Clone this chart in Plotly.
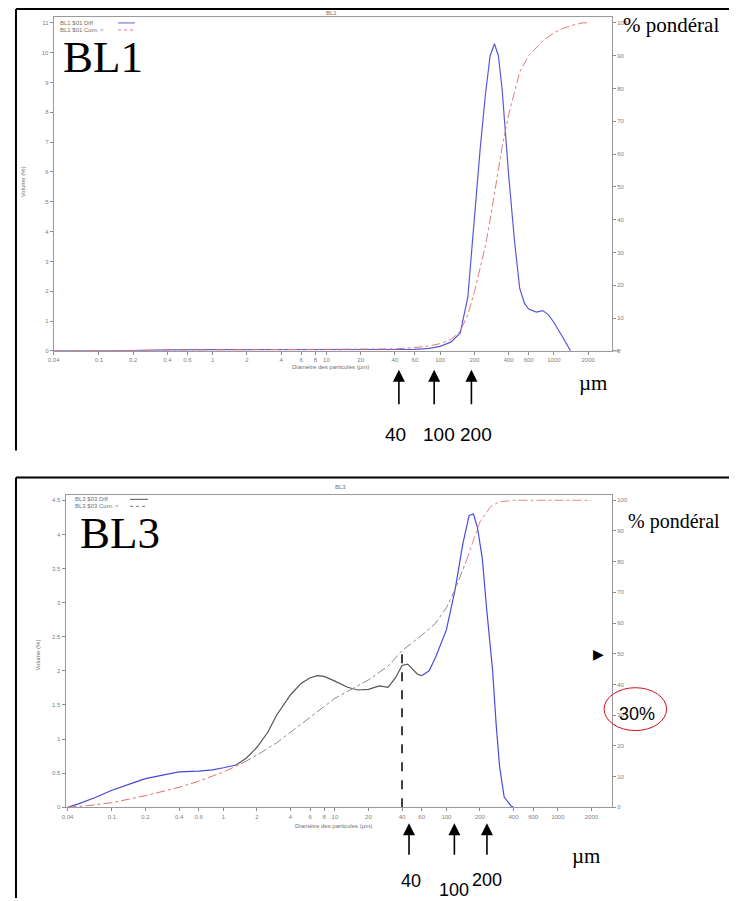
import numpy as np
import plotly.graph_objects as go

# page is drawn with the browser's default 8px body margin, so the figure is
# sized to fill the 737x901 window from that offset
OFF = 8
W, H = 737 - OFF, 901 - OFF

# ---------------- data ----------------
bl1_size = [0.04, 0.1, 0.2, 0.4, 0.6, 1, 2, 4, 10, 20, 40, 60, 80, 100, 125, 150, 175,
            200, 225, 250, 275, 300, 325, 350, 400, 450, 500, 550, 600, 700, 800, 900,
            1000, 1200, 1400]
bl1_diff = [0, 0, 0.01, 0.03, 0.04, 0.04, 0.04, 0.04, 0.04, 0.04, 0.04, 0.05, 0.08, 0.15,
            0.3, 0.6, 1.8, 4.5, 6.8, 8.6, 9.9, 10.3, 9.9, 8.8, 5.9, 3.7, 2.1, 1.6, 1.4,
            1.3, 1.35, 1.2, 0.95, 0.45, 0.0]

bl1_cum_size = [0.04, 1, 10, 40, 60, 80, 100, 125, 150, 175, 200, 225, 250, 275, 300,
                350, 400, 450, 500, 600, 700, 800, 1000, 1200, 1500, 1800, 2000]
bl1_cum = [0, 0.2, 0.4, 0.6, 1.0, 1.5, 2.2, 3.5, 6, 11, 18, 25, 32, 40, 48, 62, 72, 79,
           85, 90, 92.5, 94.5, 97, 98.3, 99.4, 100, 100]

bl3_size = [0.04, 0.05, 0.07, 0.1, 0.15, 0.2, 0.3, 0.4, 0.6, 0.8, 1.0, 1.3, 1.6, 2.0,
            2.5, 3.0, 4.0, 5.0, 6.0, 7.0, 8.0, 10, 13, 16, 20, 25, 30, 35, 40, 45, 50,
            55, 60, 70, 80, 100, 120, 140, 160, 175, 190, 210, 230, 260, 280, 300, 330,
            380, 400]
bl3_diff = [0.0, 0.05, 0.14, 0.25, 0.35, 0.42, 0.48, 0.52, 0.53, 0.55, 0.58, 0.62, 0.72,
            0.88, 1.1, 1.35, 1.65, 1.82, 1.9, 1.93, 1.92, 1.85, 1.76, 1.72, 1.73, 1.78,
            1.76, 1.9, 2.08, 2.1, 2.02, 1.95, 1.93, 2.0, 2.2, 2.6, 3.2, 3.85, 4.28, 4.3,
            4.1, 3.65, 2.9, 2.0, 1.2, 0.6, 0.15, 0.02, 0.0]

bl3_cum_size = [0.04, 0.06, 0.1, 0.2, 0.4, 0.6, 1, 1.5, 2, 3, 4, 6, 8, 10, 15, 20, 30,
                40, 60, 80, 100, 120, 150, 200, 250, 300, 400, 1000, 2000]
bl3_cum = [0, 0.5, 1.5, 3.8, 6.5, 8.5, 11.5, 14.5, 17, 21, 24.5, 29.5, 33, 35.5, 39,
           41.5, 46, 51, 56, 60, 65, 71, 80, 93, 98, 99.5, 100, 100, 100]

x_tickvals = [0.04, 0.1, 0.2, 0.4, 0.6, 1, 2, 4, 6, 8, 10, 20, 40, 60, 100, 200, 400,
              600, 1000, 2000]
x_ticktext = ["0.04", "0.1", "0.2", "0.4", "0.6", "1", "2", "4", "6", "8", "10", "20",
              "40", "60", "100", "200", "400", "600", "1000", "2000"]
bl1_left_ticks = list(range(0, 12))
bl3_left_ticks = [0, 0.5, 1, 1.5, 2, 2.5, 3, 3.5, 4, 4.5]
bl3_left_text = ["0", "0.5", "1", "1.5", "2", "2.5", "3", "3.5", "4", "4.5"]
pct_ticks = list(range(0, 101, 10))
marker_sizes = [40, 100, 200]
marker_labels = ["40", "100", "200"]


def px(x):
    return (x - OFF) / W


def py(y):
    return 1 - (y - OFF) / H


fig = go.Figure()

# ---- top panel BL1
fig.add_trace(go.Scatter(x=bl1_size, y=bl1_diff, xaxis="x", yaxis="y", mode="lines",
                         line=dict(color="#5858d8", width=1.2), showlegend=False))
fig.add_trace(go.Scatter(x=bl1_cum_size, y=bl1_cum, xaxis="x", yaxis="y2", mode="lines",
                         line=dict(color="#e07a7a", width=1, dash="dashdot"),
                         showlegend=False))

# ---- bottom panel BL3 (colours vary along the scanned curves)
s3 = np.array(bl3_size)
d3 = np.array(bl3_diff)
m_lo = s3 <= 1.3
m_mid = (s3 >= 1.3) & (s3 <= 60)
m_hi = s3 >= 60
for m, c in [(m_lo, "#4848d8"), (m_mid, "#555555"), (m_hi, "#4a4ae0")]:
    fig.add_trace(go.Scatter(x=s3[m], y=d3[m], xaxis="x2", yaxis="y3", mode="lines",
                             line=dict(color=c, width=1.2), showlegend=False))
cs3 = np.array(bl3_cum_size)
cv3 = np.array(bl3_cum)
c_lo = cs3 <= 1.5
c_mid = (cs3 >= 1.5) & (cs3 <= 150)
c_hi = cs3 >= 150
for m, c in [(c_lo, "#e07070"), (c_mid, "#8a8a8a"), (c_hi, "#e08a8a")]:
    fig.add_trace(go.Scatter(x=cs3[m], y=cv3[m], xaxis="x2", yaxis="y4", mode="lines",
                             line=dict(color=c, width=1, dash="dashdot"), showlegend=False))

axis_common = dict(showgrid=False, zeroline=False, showline=True, linecolor="#9a9a9a",
                   linewidth=1, ticks="outside", ticklen=3, tickcolor="#8a8a8a",
                   tickfont=dict(family="Liberation Sans", size=6, color="#808080"))

fig.update_layout(
    width=W, height=H, margin=dict(l=0, r=0, t=0, b=0),
    paper_bgcolor="white", plot_bgcolor="white", showlegend=False,
    xaxis=dict(type="log", domain=[px(48), px(611)],
               range=[np.log10(0.04), 3.511], anchor="y", mirror=True,
               tickvals=x_tickvals, ticktext=x_ticktext, **axis_common),
    yaxis=dict(domain=[py(352), py(17)], range=[0, 11.2], anchor="x",
               tickvals=bl1_left_ticks, **axis_common),
    yaxis2=dict(overlaying="y", side="right", range=[0, 101.8], anchor="x",
                tickvals=pct_ticks, **axis_common),
    xaxis2=dict(type="log", domain=[px(60), px(611)],
                range=[-1.416, 3.486], anchor="y3", mirror=True,
                tickvals=x_tickvals, ticktext=x_ticktext, **axis_common),
    yaxis3=dict(domain=[py(810), py(497)], range=[0, 4.573], anchor="x2",
                tickvals=bl3_left_ticks, ticktext=bl3_left_text, **axis_common),
    yaxis4=dict(overlaying="y3", side="right", range=[0, 101.6], anchor="x2",
                tickvals=pct_ticks, **axis_common),
)

ann = []
small = dict(family="Liberation Sans", size=6, color="#707070")
serif = "Liberation Serif"


def note(x, y, text, font, **kw):
    d = dict(x=px(x), y=py(y), xref="paper", yref="paper", text=text, showarrow=False,
             font=font, xanchor="center", yanchor="middle")
    d.update(kw)
    ann.append(d)


# small chart titles and axis titles
note(328, 13, "BL1", small)
note(337, 489, "BL3", small)
note(327, 368, "Diamètre des particules (µm)", small)
note(330, 829, "Diamètre des particules (µm)", small)
note(17, 182, "Volume (%)", small, textangle=-90)
note(32, 657, "Volume (%)", small, textangle=-90)

# hand-made legends
note(52, 23, "BL1 $01 Diff", small, xanchor="left")
note(52, 30, "BL1 $01 Cum. <", small, xanchor="left")
note(67, 501, "BL3 $03 Diff", small, xanchor="left")
note(67, 508, "BL3 $03 Cum. <", small, xanchor="left")

# big annotations
note(98, 57, "BL1", dict(family=serif, size=45, color="black"))
note(115, 535, "BL3", dict(family=serif, size=45, color="black"))
note(670, 25, "% pondéral", dict(family=serif, size=21, color="black"))
note(673, 523, "% pondéral", dict(family=serif, size=20, color="black"))
note(592, 384, "µm", dict(family=serif, size=21, color="black"))
note(585, 859, "µm", dict(family=serif, size=21, color="black"))

# arrows to the 40 / 100 / 200 µm sizes
top_arrow_shift = [4, -6, -3]
top_label_shift = [1, -1, 2]
bot_arrow_shift = [7, 8, 7]
bot_label_shift = [9, 8, 7]
bot_label_y = [884, 893, 883]
for i, s in enumerate(marker_sizes):
    ann.append(dict(x=np.log10(s), y=py(371), xref="x", yref="paper", text="",
                    showarrow=True, arrowhead=2, arrowsize=1.5, arrowwidth=1.6,
                    arrowcolor="black", ax=0, ay=36, xshift=top_arrow_shift[i]))
    ann.append(dict(x=np.log10(s), y=py(436), xref="x", yref="paper",
                    text=marker_labels[i], showarrow=False,
                    font=dict(family="Liberation Sans", size=19, color="black"),
                    xanchor="center", yanchor="middle", xshift=top_label_shift[i]))
    ann.append(dict(x=np.log10(s), y=py(826), xref="x2", yref="paper", text="",
                    showarrow=True, arrowhead=2, arrowsize=1.5, arrowwidth=1.6,
                    arrowcolor="black", ax=0, ay=33, xshift=bot_arrow_shift[i]))
    ann.append(dict(x=np.log10(s), y=py(bot_label_y[i]), xref="x2", yref="paper",
                    text=marker_labels[i], showarrow=False,
                    font=dict(family="Liberation Sans", size=18, color="black"),
                    xanchor="center", yanchor="middle", xshift=bot_label_shift[i]))

# axis end arrow (top)
ann.append(dict(x=px(619), y=py(352), xref="paper", yref="paper", text="", showarrow=True,
                arrowhead=2, arrowsize=0.6, arrowwidth=1, arrowcolor="#9a9a9a",
                ax=-9, ay=0))

# 50 % pointer and the 30 % note
cum40 = float(np.interp(40, bl3_cum_size, bl3_cum))
ann.append(dict(x=px(597), y=50, xref="paper", yref="y4", text="▶", showarrow=False,
                font=dict(family="DejaVu Sans", size=14, color="black"),
                xanchor="center", yanchor="middle"))
note(636, 716, "30%", dict(family="Liberation Sans", size=18, color="black"))

fig.update_layout(annotations=ann)

shapes = []
# panel borders
for (x0, y0, x1, y1) in [(10, 9, 737, 9), (10, 9, 10, 452), (10, 479, 737, 479),
                         (10, 479, 10, 901)]:
    shapes.append(dict(type="line", xref="paper", yref="paper", x0=px(x0), y0=py(y0),
                       x1=px(x1), y1=py(y1), line=dict(color="black", width=2)))
# legend line samples
shapes.append(dict(type="line", xref="paper", yref="paper", x0=px(113), x1=px(130),
                   y0=py(23), y1=py(23), line=dict(color="#6060d0", width=1)))
shapes.append(dict(type="line", xref="paper", yref="paper", x0=px(113), x1=px(130),
                   y0=py(30), y1=py(30), line=dict(color="#d08080", width=1, dash="dot")))
shapes.append(dict(type="line", xref="paper", yref="paper", x0=px(125), x1=px(143),
                   y0=py(501), y1=py(501), line=dict(color="#555555", width=1)))
shapes.append(dict(type="line", xref="paper", yref="paper", x0=px(125), x1=px(143),
                   y0=py(508), y1=py(508), line=dict(color="#777777", width=1, dash="dot")))
# dashed guide at 40 µm up to the cumulative curve
shapes.append(dict(type="line", xref="x2", yref="y4", x0=40, x1=40, y0=0, y1=cum40,
                   line=dict(color="black", width=1.5, dash="dash")))
# red ellipse
shapes.append(dict(type="circle", xref="paper", yref="paper", x0=px(603), x1=px(666),
                   y0=py(733), y1=py(690), line=dict(color="#cc1020", width=1)))
fig.update_layout(shapes=shapes)

fig.write_html("out.html")
